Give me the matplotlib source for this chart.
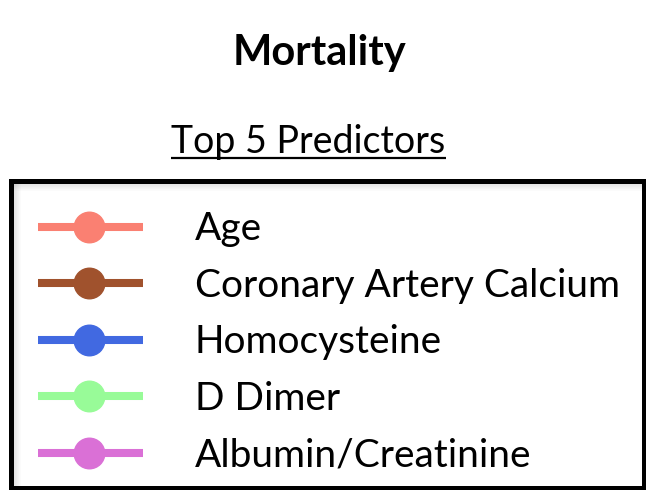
import matplotlib
matplotlib.use("Agg")
import matplotlib.pyplot as plt
from matplotlib.patches import Rectangle

title = "Mortality"
subtitle = "Top 5 Predictors"
predictors = ["Age", "Coronary Artery Calcium", "Homocysteine", "D Dimer", "Albumin/Creatinine"]
colors = ["#FA8072", "#A0522D", "#4169E1", "#98FB98", "#DA70D6"]

W, H = 646, 490
fig = plt.figure(figsize=(W / 100, H / 100), dpi=100)
ax = fig.add_axes([0, 0, 1, 1])
ax.set_xlim(0, W)
ax.set_ylim(H, 0)
ax.axis("off")

font = "Lato"
ax.text(320, 65, title, ha="center", va="baseline", fontsize=30, fontweight="bold", family=font)
ax.text(308.5, 153, subtitle, ha="center", va="baseline", fontsize=27, family=font)
ax.plot([171, 446], [158, 158], color="black", lw=1.6, solid_capstyle="butt")

# legend frame with subtle inner shadow on top/left
ax.add_patch(Rectangle((10.5, 180.5), 633.5, 307, facecolor="white", edgecolor="none", zorder=1))
for k in range(8):
    a = 0.22 * (1 - k / 8)
    ax.plot([13 + k, 13 + k], [183, 485], color="gray", alpha=a, lw=0.75, zorder=1.5)
    ax.plot([13, 642], [183 + k, 183 + k], color="gray", alpha=a, lw=0.75, zorder=1.5)
ax.add_patch(Rectangle((10.5, 180.5), 633.5, 307, facecolor="none", edgecolor="black", lw=3.6, zorder=2))

y0, dy = 226.7, 56.5
for i, (lab, c) in enumerate(zip(predictors, colors)):
    y = y0 + i * dy
    ax.plot([38, 143], [y, y], color=c, lw=5.8, solid_capstyle="butt", zorder=3)
    ax.plot([89], [y], marker="o", ms=22, color=c, mec=c, zorder=4)
    ax.text(195, y + 13.5, lab, ha="left", va="baseline", fontsize=28, family=font, zorder=4)

fig.savefig("out.png", dpi=100)
